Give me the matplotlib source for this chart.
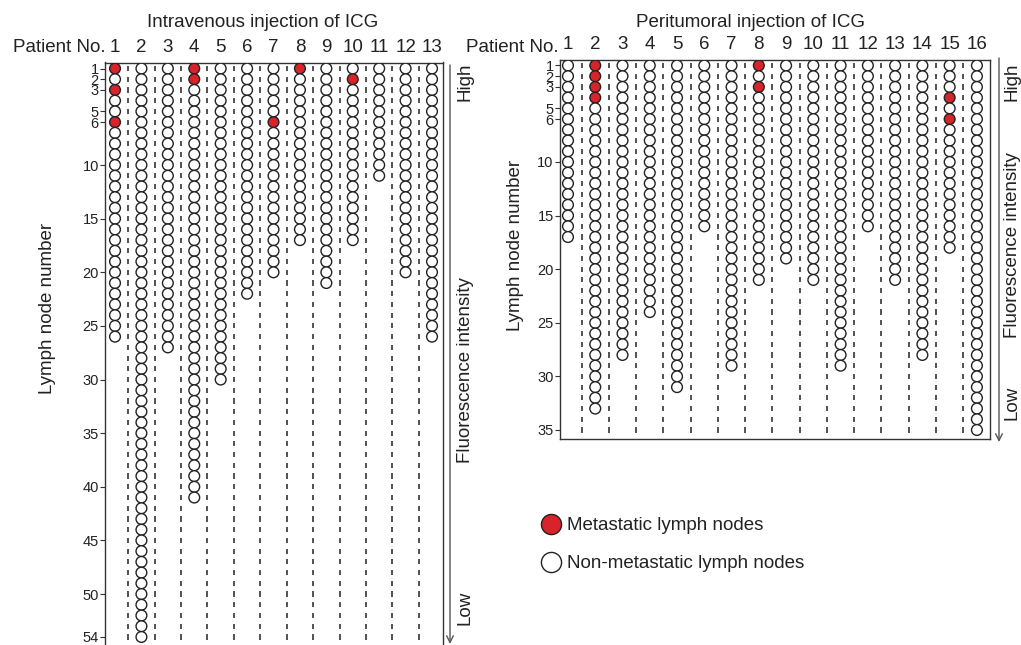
import matplotlib
matplotlib.use("Agg")
import matplotlib.pyplot as plt
import numpy as np
from matplotlib.lines import Line2D
from matplotlib.patches import FancyArrowPatch

plt.rcParams['font.family'] = ['Liberation Sans', 'DejaVu Sans']

# lymph nodes per patient, ordered by fluorescence (row 1 = brightest)
iv_counts = [26, 54, 27, 41, 30, 22, 20, 17, 21, 17, 11, 20, 26]
iv_metastatic = {1: [1, 3, 6], 4: [1, 2], 7: [6], 8: [1], 10: [2]}
iv_yticks = [1, 2, 3, 5, 6, 10, 15, 20, 25, 30, 35, 40, 45, 50, 54]

pt_counts = [17, 33, 28, 24, 31, 16, 29, 21, 19, 21, 29, 16, 21, 28, 18, 35]
pt_metastatic = {2: [1, 2, 3, 4], 8: [1, 3], 15: [4, 6]}
pt_yticks = [1, 2, 3, 5, 6, 10, 15, 20, 25, 30, 35]

RED = '#d8232a'
INK = '#222222'
FS = 13.5

W, H = 1021, 645
fig = plt.figure(figsize=(W / 100, H / 100), dpi=100)


def box(x0, y0, x1, y1):
    # pixel box (top-left origin) -> figure fraction
    return [x0 / W, 1 - y1 / H, (x1 - x0) / W, (y1 - y0) / H]


def panel(ax, counts, metastatic, yticks, dash_rows):
    npat = len(counts)
    for i, n in enumerate(counts):
        p = i + 1
        rows = np.arange(1, n + 1)
        cols = [RED if r in metastatic.get(p, []) else 'white' for r in rows]
        ax.scatter(np.full(n, p), rows, s=60, c=cols, edgecolors=INK,
                   linewidths=1.0, zorder=3)
    rr = np.arange(1, dash_rows + 1)
    for p in range(1, npat):
        ax.vlines(np.full(len(rr), p + 0.5), rr - 0.24, rr + 0.24,
                  colors='#333333', linewidth=1.2, zorder=2)
    ax.set_yticks(yticks)
    ax.set_yticklabels([str(t) for t in yticks])
    ax.set_xticks(range(1, npat + 1))
    ax.set_xticklabels([str(p) for p in range(1, npat + 1)])
    ax.tick_params(axis='y', direction='out', length=3.5, width=0.8,
                   color='#333333', labelsize=10.5, labelcolor=INK, pad=1)
    ax.tick_params(axis='x', top=True, bottom=False, labeltop=True,
                   labelbottom=False, length=0, pad=5, labelsize=FS,
                   labelcolor=INK)
    for s in ax.spines.values():
        s.set_color('#333333')
        s.set_linewidth(1.0)


# left: intravenous
ax1 = fig.add_axes(box(105, 62.5, 443, 645))
panel(ax1, iv_counts, iv_metastatic, iv_yticks, 55)
ax1.set_xlim(0.621, 13.416)
ax1.set_ylim(54.75, 0.44)
ax1.spines['bottom'].set_visible(False)

# right: peritumoral
ax2 = fig.add_axes(box(560, 60, 990, 439))
panel(ax2, pt_counts, pt_metastatic, pt_yticks, 35)
ax2.set_xlim(0.707, 16.48)
ax2.set_ylim(35.84, 0.487)

# overlay in pixel coords for annotations
ov = fig.add_axes([0, 0, 1, 1], zorder=5)
ov.set_xlim(0, W)
ov.set_ylim(H, 0)
ov.axis('off')

ov.text(263, 27, 'Intravenous injection of ICG', ha='center', va='baseline',
        fontsize=FS, color=INK)
ov.text(750, 27, 'Peritumoral injection of ICG', ha='center', va='baseline',
        fontsize=FS, color=INK)
ov.text(106, 52, 'Patient No.', ha='right', va='baseline', fontsize=FS, color=INK)
ov.text(559, 52, 'Patient No.', ha='right', va='baseline', fontsize=FS, color=INK)

ov.text(47, 308, 'Lymph node number', rotation=90, ha='center', va='center',
        fontsize=FS, color=INK)
ov.text(515, 245, 'Lymph node number', rotation=90, ha='center', va='center',
        fontsize=FS, color=INK)

for x, yh, yf, yl in [(465, 82, 370, 608), (1012, 82, 245, 403)]:
    ov.text(x, yh, 'High', rotation=90, ha='center', va='center', fontsize=FS, color=INK)
    ov.text(x, yf, 'Fluorescence intensity', rotation=90, ha='center', va='center',
            fontsize=FS, color=INK)
    ov.text(x, yl, 'Low', rotation=90, ha='center', va='center', fontsize=FS, color=INK)

for x, y0, y1 in [(450, 65, 644), (999, 58, 442)]:
    ov.add_patch(FancyArrowPatch((x, y0), (x, y1), arrowstyle='->',
                                 mutation_scale=12, color='#555555', lw=1.0,
                                 shrinkA=0, shrinkB=0))

handles = [Line2D([], [], ls='none', marker='o', ms=14.5, mfc=RED, mec=INK, mew=1.0),
           Line2D([], [], ls='none', marker='o', ms=14.5, mfc='white', mec=INK, mew=1.0)]
fig.legend(handles, ['Metastatic lymph nodes', 'Non-metastatic lymph nodes'],
           loc='upper left', bbox_to_anchor=(542 / W, 1 - 517 / H),
           frameon=False, fontsize=FS, handlelength=1.0, handletextpad=0.35,
           borderpad=0, borderaxespad=0, labelspacing=1.12, labelcolor=INK)

fig.savefig('out.png', dpi=100)
